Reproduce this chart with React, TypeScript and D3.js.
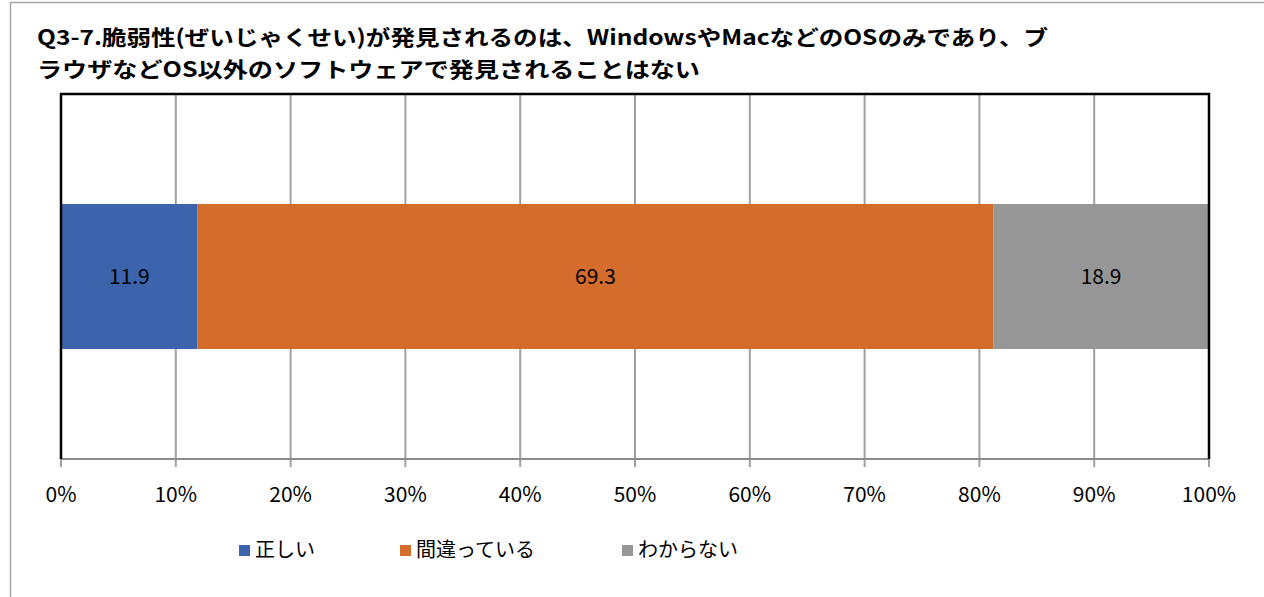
import React from "react";
import * as d3 from "d3";

const categories = ["Q3-7"];
const seriesNames = ["正しい", "間違っている", "わからない"];
const seriesValues = [11.9, 69.3, 18.9];
const seriesColors = ["#3C64AC", "#D46D2B", "#969696"];
const tickValues = [0, 10, 20, 30, 40, 50, 60, 70, 80, 90, 100];
const titleLines = [
  "Q3-7.脆弱性(ぜいじゃくせい)が発見されるのは、WindowsやMacなどのOSのみであり、ブ",
  "ラウザなどOS以外のソフトウェアで発見されることはない",
];
const titleWidths = [1011, 663];

const W = 1264;
const H = 597;
const FONT = "'Noto Sans CJK JP', 'Noto Sans', sans-serif";

export default function App() {
  const left = 61, right = 1209, top = 94, bottom = 459;
  const x = d3.scaleLinear().domain([0, 100]).range([left, right]);
  const y = d3.scaleBand().domain(categories).range([top, bottom]).paddingInner(0).paddingOuter(0.7586);
  let acc = 0;
  const segs = seriesValues.map((v, i) => {
    const s = { x0: acc, x1: acc + v, v, i };
    acc += v;
    return s;
  });
  const legendX = [239, 400, 622];
  return (
    <svg width={W} height={H} style={{ position: "absolute", left: 0, top: 0, background: "#fff" }}>
      <rect x={10.5} y={2.5} width={1400} height={800} fill="#fff" stroke="#A6A6A6" strokeWidth={1.5} />
      {titleLines.map((t, i) => (
        <text
          key={i}
          x={37}
          y={45 + i * 32}
          fontFamily={FONT}
          fontWeight="bold"
          fontSize={21}
          fill="#000"
          textLength={titleWidths[i]}
          lengthAdjust="spacingAndGlyphs"
        >
          {t}
        </text>
      ))}
      {tickValues.map((t) => (
        <line key={"g" + t} x1={x(t)} x2={x(t)} y1={top} y2={bottom + 8} stroke="#A0A0A0" strokeWidth={2} />
      ))}
      {categories.map((c) =>
        segs.map((s) => (
          <g key={c + s.i}>
            <rect
              x={x(s.x0)}
              y={y(c)!}
              width={x(Math.min(s.x1, 100)) - x(s.x0)}
              height={y.bandwidth()}
              fill={seriesColors[s.i]}
            />
            <text
              x={(x(s.x0) + x(Math.min(s.x1, 100))) / 2}
              y={y(c)! + y.bandwidth() / 2}
              dy="0.35em"
              textAnchor="middle"
              fontFamily={FONT}
              fontSize={21}
              fill="#000"
            >
              {s.v.toFixed(1)}
            </text>
          </g>
        ))
      )}
      <line x1={left} x2={right} y1={bottom} y2={bottom} stroke="#8C8C8C" strokeWidth={2} />
      <path d={`M${left},${bottom} V${top} H${right} V${bottom}`} fill="none" stroke="#000" strokeWidth={2.5} />
      {tickValues.map((t) => (
        <text key={"t" + t} x={x(t)} y={495} dy="0.35em" textAnchor="middle" fontFamily={FONT} fontSize={21} fill="#000">
          {t}%
        </text>
      ))}
      {seriesNames.map((n, i) => (
        <g key={n}>
          <rect x={legendX[i]} y={545} width={11} height={11} fill={seriesColors[i]} />
          <text x={legendX[i] + 16} y={550} dy="0.35em" fontFamily={FONT} fontSize={20} fill="#000">
            {n}
          </text>
        </g>
      ))}
    </svg>
  );
}
